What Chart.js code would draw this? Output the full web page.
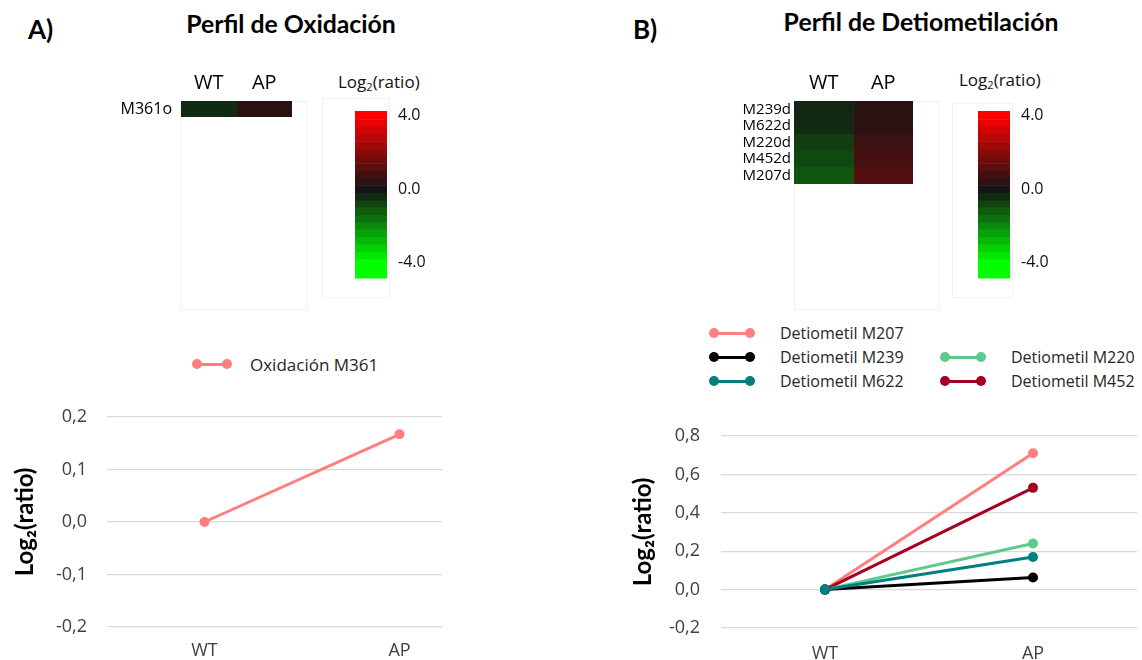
<!DOCTYPE html>
<html><head><meta charset="utf-8">
<script src="https://cdn.jsdelivr.net/npm/chart.js@4.4.1/dist/chart.umd.min.js"></script>
<style>
html,body{margin:0;padding:0;}
body{width:1142px;height:660px;position:relative;background:#fff;overflow:hidden;font-family:'Open Sans',sans-serif;}
.abs{position:absolute;white-space:nowrap;line-height:1;}
.bold{font-family:Lato,'Open Sans',sans-serif;font-weight:bold;color:#000;}
.box{position:absolute;border:1px solid #f1f1f1;box-sizing:border-box;}
canvas{display:block;}
.leg{position:absolute;display:flex;align-items:center;height:24px;white-space:nowrap;color:#262626;}
.mk{position:relative;height:10px;display:inline-block;}
.mk i{position:absolute;left:2px;right:2px;top:3.5px;height:3px;}
.mk b{position:absolute;top:0;width:10px;height:10px;border-radius:50%;}
.cbt{font-size:17px;color:#111;}
.cbt sub{font-size:11px;vertical-align:-3px;line-height:0;}
</style></head><body>

<div class="abs bold" style="left:28px;top:16px;font-size:26px;">A)</div>
<div class="abs bold" style="left:291px;top:12px;font-size:24.8px;transform:translateX(-50%);">Perfil de Oxidación</div>
<div class="abs bold" style="left:633px;top:16px;font-size:26px;">B)</div>
<div class="abs bold" style="left:921px;top:10px;font-size:24.8px;transform:translateX(-50%);">Perfil de Detiometilación</div>

<div class="box" style="left:180px;top:101px;width:128px;height:209px;"></div>
<div class="box" style="left:322px;top:98px;width:68px;height:200px;"></div>
<div class="box" style="left:794px;top:101px;width:146px;height:209px;"></div>
<div class="box" style="left:952px;top:103px;width:61px;height:195px;"></div>

<div style="position:absolute;left:100px;top:65px;"><canvas id="heatA" width="200" height="52"></canvas></div>
<div style="position:absolute;left:720px;top:65px;"><canvas id="heatB" width="220" height="119"></canvas></div>

<div class="abs cbt" style="left:338px;top:73px;">Log<sub>2</sub>(ratio)</div>
<div class="abs cbt" style="left:959px;top:71px;">Log<sub>2</sub>(ratio)</div>
<div style="position:absolute;left:340px;top:100px;"><canvas id="cbA" width="100" height="200"></canvas></div>
<div style="position:absolute;left:963px;top:100px;"><canvas id="cbB" width="100" height="200"></canvas></div>

<div id="legends"></div>

<div style="position:absolute;left:0;top:395px;width:442px;height:265px;overflow:hidden;"><canvas id="lineA" width="502" height="265"></canvas></div>
<div style="position:absolute;left:620px;top:420px;"><canvas id="lineB" width="522" height="240"></canvas></div>

<script>
// ---------- data ----------
const categories = ['WT', 'AP'];

// Panel A line chart
const oxNames = ['Oxidación M361'];
const oxM361 = [0, 0.167];

// Panel B line chart
const detNames = ['Detiometil M207', 'Detiometil M239', 'Detiometil M220', 'Detiometil M622', 'Detiometil M452'];
const detM207 = [0, 0.71];
const detM239 = [0, 0.063];
const detM220 = [0, 0.24];
const detM622 = [0, 0.17];
const detM452 = [0, 0.53];

// Heatmaps (log2 ratio colour values)
const heatRowsA = ['M361o'];
const heatWT_A = [-0.35];
const heatAP_A = [0.35];
const heatRowsB = ['M239d', 'M622d', 'M220d', 'M452d', 'M207d'];
const heatWT_B = [-0.3, -0.35, -0.7, -0.9, -1.1];
const heatAP_B = [0.35, 0.4, 0.7, 0.85, 1.1];

// Tick labels
const colorbarTicks = [4, 0, -4];
const yTicksA = [-0.2, -0.1, 0, 0.1, 0.2];
const yTicksB = [-0.2, 0, 0.2, 0.4, 0.6, 0.8];

// ---------- styles ----------
const FONT = "'Open Sans', sans-serif";
const BOLD = "Lato, 'Open Sans', sans-serif";
const detColors = ['#FF7F7F', '#000000', '#5CC98D', '#007F7E', '#A50021'];
const detOrder = [4, 1, 2, 0, 3];
const oxColor = '#FF7F7F';

function heatColor(v) {
  const t = Math.max(-1, Math.min(1, v / 4));
  const base = 20;
  const hi = Math.round(base + Math.abs(t) * (255 - base));
  const lo = Math.round(base * (1 - Math.abs(t)));
  return t >= 0 ? `rgb(${hi},${lo},${lo})` : `rgb(${lo},${hi},${lo})`;
}
function noPad(s) { s.paddingTop = 0; s.paddingBottom = 0; s.paddingLeft = 0; s.paddingRight = 0; }

const common = {responsive: false, animation: false, events: [],
  plugins: {legend: {display: false}, tooltip: {enabled: false}}};

// ---------- heatmaps ----------
function heatChart(id, rows, cols, yW, padR, fontRow, rowPad) {
  const datasets = categories.map((c, i) => ({
    label: c,
    data: rows.map(() => [i, i + 1]),
    backgroundColor: cols[i].map(heatColor),
    grouped: false, categoryPercentage: 1, barPercentage: 1, borderWidth: 0
  }));
  new Chart(document.getElementById(id), {
    type: 'bar',
    data: {labels: rows, datasets},
    options: Object.assign({}, common, {
      indexAxis: 'y',
      layout: {padding: {top: 0, right: padR, bottom: 0, left: 0}},
      scales: {
        x: {type: 'linear', position: 'top', min: 0, max: categories.length,
          grid: {display: false, drawTicks: false}, border: {display: false},
          afterBuildTicks: a => { a.ticks = categories.map((c, i) => ({value: i + 0.5})); },
          ticks: {callback: v => categories[Math.floor(v)], font: {size: 20, family: FONT}, color: '#000', padding: 6, maxRotation: 0, autoSkip: false},
          afterFit: s => { s.height = 36; noPad(s); }},
        y: {grid: {display: false, drawTicks: false}, border: {display: false},
          ticks: {font: {size: fontRow, family: FONT}, color: '#000', padding: rowPad, autoSkip: false},
          afterFit: s => { s.width = yW; noPad(s); }}
      }
    })
  });
}
heatChart('heatA', heatRowsA, [heatWT_A, heatAP_A], 81, 8, 16, 9);
heatChart('heatB', heatRowsB, [heatWT_B, heatAP_B], 74, 27, 15, 3);

// ---------- colour bars ----------
const bandPlugin = {
  id: 'bands',
  beforeDatasetsDraw(chart) {
    const {ctx, chartArea: a, scales: {y}} = chart;
    const step = 0.4;
    ctx.save();
    for (let k = Math.floor(y.min / step); k <= Math.ceil(y.max / step); k++) {
      const lo = Math.max(y.min, (k - 0.5) * step), hi = Math.min(y.max, (k + 0.5) * step);
      if (hi <= lo) continue;
      const y1 = y.getPixelForValue(hi), y2 = y.getPixelForValue(lo);
      ctx.fillStyle = heatColor(k * step);
      ctx.fillRect(a.left, y1, a.right - a.left, y2 - y1 + 0.5);
    }
    ctx.restore();
  }
};
function colorbar(id) {
  new Chart(document.getElementById(id), {
    type: 'bar',
    data: {labels: [''], datasets: [{data: [null]}]},
    options: Object.assign({}, common, {
      layout: {padding: {left: 15, top: 11, bottom: 22, right: 0}},
      scales: {
        x: {display: false},
        y: {position: 'right', min: -4.85, max: 4.25,
          grid: {display: false, drawTicks: false}, border: {display: false},
          afterBuildTicks: a => { a.ticks = colorbarTicks.map(v => ({value: v})); },
          ticks: {callback: v => v.toFixed(1), font: {size: 16, family: FONT}, color: '#111', padding: 11},
          afterFit: s => { s.width = 53; noPad(s); }}
      }
    }),
    plugins: [bandPlugin]
  });
}
colorbar('cbA');
colorbar('cbB');

// ---------- line charts ----------
function fmt(v) { return (Math.abs(v) < 1e-9 ? 0 : v).toFixed(1).replace('.', ','); }
function lineChart(id, datasets, ticks, yW, xH, padTop, tickPad, titlePad, xPad) {
  new Chart(document.getElementById(id), {
    type: 'line',
    data: {labels: categories, datasets},
    options: Object.assign({}, common, {
      layout: {padding: {top: padTop, right: 0, bottom: 0, left: 0}},
      scales: {
        x: {offset: true, grid: {display: false, drawTicks: false}, border: {display: false},
          ticks: {font: {size: 18, family: FONT}, color: '#404040', padding: xPad},
          afterFit: s => { s.height = xH; noPad(s); }},
        y: {min: ticks[0], max: ticks[ticks.length - 1],
          grid: {color: '#d9d9d9', lineWidth: 1.3, drawTicks: false}, border: {display: false},
          afterBuildTicks: a => { a.ticks = ticks.map(v => ({value: v})); },
          ticks: {callback: fmt, font: {size: 18, family: FONT}, color: '#404040', padding: tickPad},
          title: {display: true, text: 'Log₂(ratio)', font: {size: 24, weight: 'bold', family: BOLD}, color: '#000', padding: {top: titlePad, bottom: 0}},
          afterFit: s => { s.width = yW; noPad(s); }}
      }
    })
  });
}
function ds(label, data, color, order) {
  return {label, data, borderColor: color, backgroundColor: color, pointBackgroundColor: color,
    pointBorderColor: color, borderWidth: 3, pointRadius: 5, pointBorderWidth: 0, order};
}
lineChart('lineA', [ds(oxNames[0], oxM361, oxColor, 0)], yTicksA, 107, 33, 22, 20, 11, 13);
const detData = [detM207, detM239, detM220, detM622, detM452];
lineChart('lineB', detNames.map((n, i) => ds(n, detData[i], detColors[i], detOrder[i])), yTicksB, 101, 32, 16, 21, 9, 15);

// ---------- legends ----------
function legendItem(x, y, w, gap, color, text, size) {
  const d = document.createElement('div');
  d.className = 'leg';
  d.style.left = x + 'px';
  d.style.top = (y - 12) + 'px';
  d.innerHTML = `<span class="mk" style="width:${w}px"><i style="background:${color}"></i>` +
    `<b style="background:${color};left:0"></b><b style="background:${color};right:0"></b></span>` +
    `<span style="font-size:${size}px;margin-left:${gap}px">${text}</span>`;
  document.getElementById('legends').appendChild(d);
}
legendItem(192, 364, 40, 18, oxColor, oxNames[0], 17);
const legCol = [709, 940];
const legRow = [333, 357, 381];
const legPos = [[0, 0], [0, 1], [1, 1], [0, 2], [1, 2]];
detNames.forEach((n, i) => legendItem(legCol[legPos[i][0]], legRow[legPos[i][1]], 46, 25, detColors[i], n, 16));
</script>
</body></html>
